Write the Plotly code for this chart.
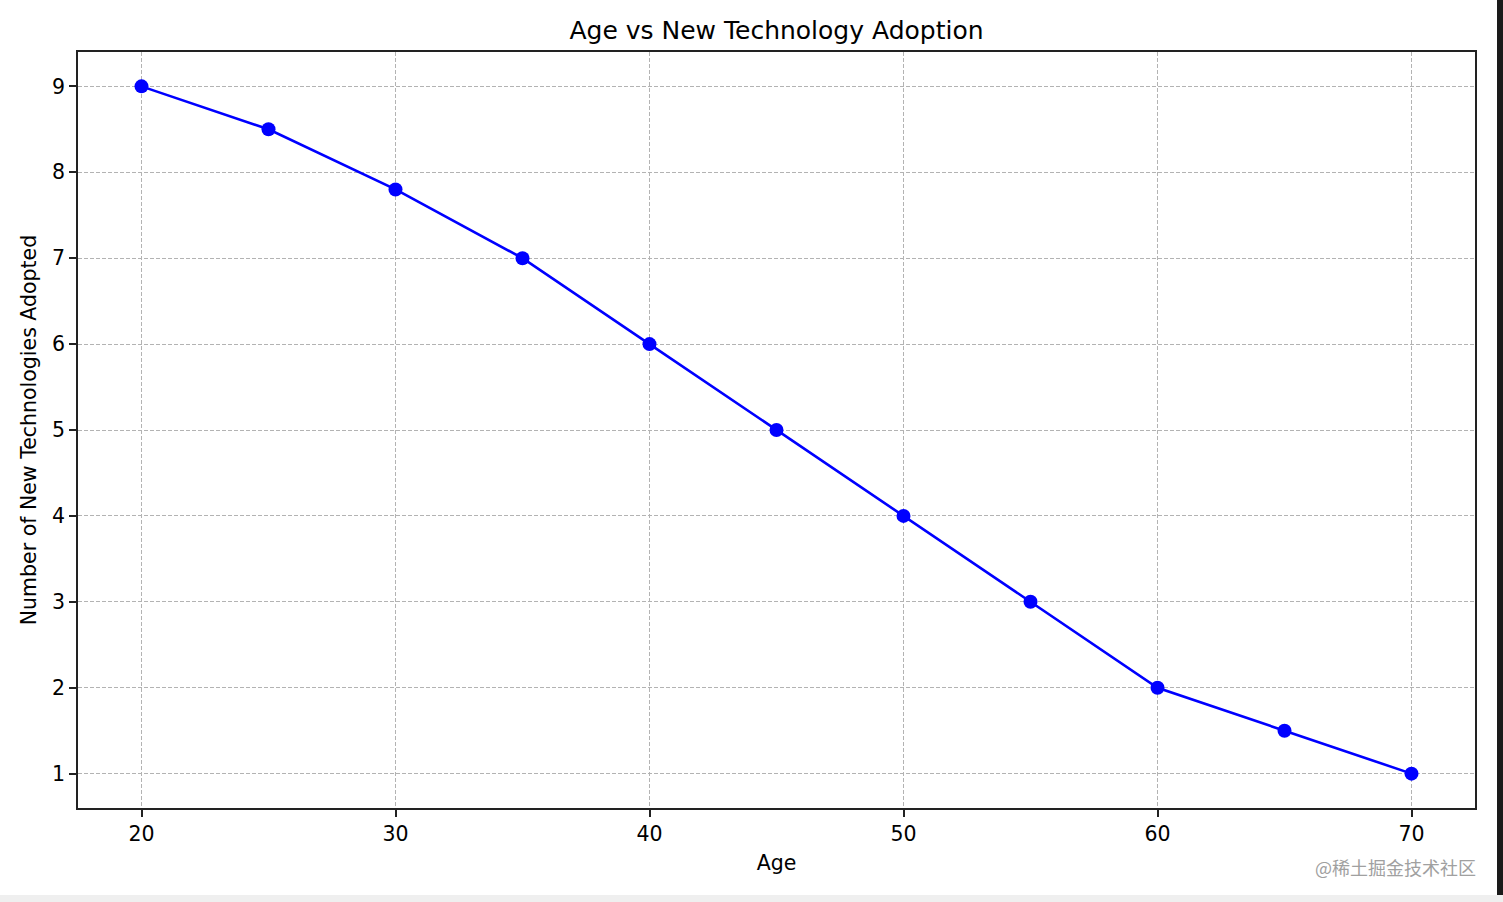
import plotly.graph_objects as go

ages = [20, 25, 30, 35, 40, 45, 50, 55, 60, 65, 70]
adopted = [9, 8.5, 7.8, 7, 6, 5, 4, 3, 2, 1.5, 1]
x_ticks = [20, 30, 40, 50, 60, 70]
y_ticks = [1, 2, 3, 4, 5, 6, 7, 8, 9]

fig = go.Figure()
fig.add_trace(go.Scatter(
    x=ages, y=adopted, mode="lines+markers",
    line=dict(color="#0000ff", width=2.6),
    marker=dict(color="#0000ff", size=14),
    showlegend=False,
))

font = "DejaVu Sans, sans-serif"
axis_common = dict(
    showline=True, linecolor="#222", linewidth=1.6, mirror=True,
    ticks="outside", ticklen=7, tickwidth=1.5, tickcolor="#222",
    showgrid=True, gridcolor="#b3b3b3", gridwidth=0.8, griddash="4px,2px",
    zeroline=False, tickfont=dict(family=font, size=20.5, color="black"),
)

fig.update_layout(
    width=1503, height=902,
    paper_bgcolor="white", plot_bgcolor="white",
    margin=dict(l=78, r=28, t=52, b=94),
    title=dict(text="Age vs New Technology Adoption", x=0.5, xanchor="center",
               xref="paper", y=1 - 30 / 902, yanchor="middle",
               font=dict(family=font, size=25, color="black")),
    xaxis=dict(range=[17.5, 72.5], tickvals=x_ticks,
               title=dict(text="Age", font=dict(family=font, size=20.5, color="black"), standoff=10),
               **axis_common),
    yaxis=dict(range=[0.6, 9.4], tickvals=y_ticks,
               title=dict(text="Number of New Technologies Adopted",
                          font=dict(family=font, size=20.5, color="black"), standoff=10),
               **axis_common),
    font=dict(family=font),
)

# screenshot edges
fig.add_shape(type="rect", xref="paper", yref="paper",
              x0=(0 - 78) / 1397, x1=(1503 - 78) / 1397,
              y0=-(895 - 808) / 756, y1=-(905 - 808) / 756,
              fillcolor="#efefef", line=dict(width=0), layer="above")
fig.add_shape(type="rect", xref="paper", yref="paper",
              x0=(1497 - 78) / 1397, x1=(1505 - 78) / 1397,
              y0=-(895 - 808) / 756, y1=(808 + 2) / 756,
              fillcolor="#1a1a1a", line=dict(width=0), layer="above")

fig.add_annotation(text="@稀土掘金技术社区", xref="paper", yref="paper",
                   x=(1478 - 78) / 1397, y=-(867 - 808) / 756,
                   xanchor="right", yanchor="middle", showarrow=False,
                   font=dict(family="Noto Sans CJK SC", size=18, color="#a0a0a0"))

fig.write_html(
    "out.html",
    config={"displayModeBar": False},
    post_script="document.body.style.margin='0';document.body.style.overflow='hidden';",
)
